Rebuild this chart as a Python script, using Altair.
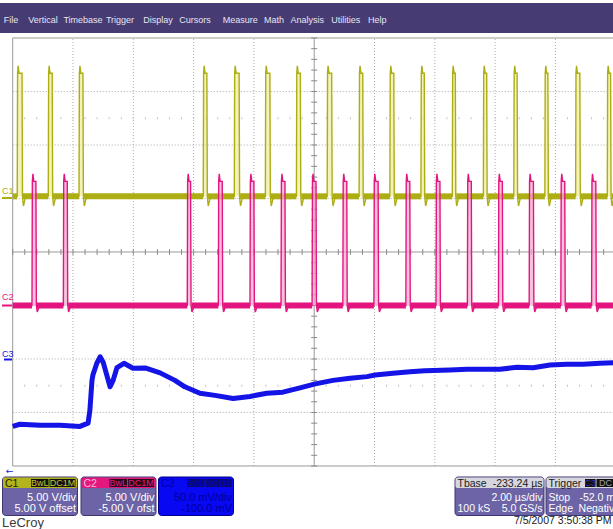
import altair as alt
import numpy as np
import pandas as pd

# ---------------- data ----------------
# time in microseconds relative to screen centre (2 us/div)
c1_rise = [-9.85, -8.82, -7.80, -3.68, -2.65, -1.62, -0.59, 0.43, 1.49, 2.51,
           3.54, 4.58, 5.61, 6.62, 7.65, 8.67, 9.72]
c1_fall = [-9.69, -8.69, -7.67, -3.56, -2.49, -1.47, -0.46, 0.58, 1.61, 2.64,
           3.65, 4.68, 5.72, 6.73, 7.75, 8.81, 9.83]
c1_levels = {"base": 0.2, "top": 11.7, "peak": 12.4, "under": -0.7}   # volts

c2_rise = [-9.36, -8.32, -4.21, -3.18, -2.13, -1.10, -0.07, 0.95, 1.98, 3.04,
           4.04, 5.08, 6.11, 7.13, 8.18, 9.20]
c2_fall = [-9.23, -8.19, -4.10, -3.05, -2.00, -0.97, 0.06, 1.08, 2.12, 3.17,
           4.17, 5.21, 6.24, 7.27, 8.31, 9.34]
c2_levels = {"base": 0.0, "top": 11.6, "peak": 12.3, "under": -0.6}   # volts

c3_t = [-10.0, -9.76, -9.09, -8.43, -7.77, -7.50, -7.44, -7.37, -7.34, -7.21,
        -7.10, -7.00, -6.87, -6.77, -6.67, -6.54, -6.31, -6.01, -5.61, -5.11,
        -4.62, -4.29, -3.79, -3.29, -2.69, -2.13, -1.57, -1.04, -0.47, 0.0,
        0.62, 1.19, 1.75, 2.02, 2.61, 3.18, 3.67, 4.50, 5.07, 5.60,
        6.16, 6.73, 7.26, 7.82, 8.38, 8.92, 9.48, 9.95]
c3_mv = [-63, -61, -62, -62, -63, -60, -48, -20, -15, -4,
         2, -3, -16, -26, -20, -8, -4, -8.7, -8.4, -13,
         -20, -26, -32, -34, -37, -35, -32, -31, -27, -23.5,
         -20, -18, -16.5, -15, -13.4, -12, -11, -10.3, -9.6, -9.6,
         -9.6, -7.8, -8.2, -5.6, -5.0, -4.9, -4.0, -3.5]

# channel settings: (volts/div, offset)
c1_set = (5.0, 5.0)
c2_set = (5.0, -5.0)
c3_set = (50.0, -100.0)

T0, T1 = -10.0, 10.0

# ---------------- scales ----------------
xs = alt.Scale(domain=[-10.421, 9.910], nice=False, zero=False)
ys = alt.Scale(domain=[-5.178, 4.710], nice=False, zero=False)


def X(f):
    return alt.X(f, type="quantitative", scale=xs, axis=None)


def Y(f):
    return alt.Y(f, type="quantitative", scale=ys, axis=None)


def to_div(v, setting):
    vdiv, off = setting
    return (np.asarray(v, dtype=float) + off) / vdiv


def pulse_frames(rise, fall, lv, setting):
    pts = [(T0, lv["base"])]
    fills, bands = [], []
    prev = T0
    for r, f in zip(rise, fall):
        pts += [(r, lv["base"]), (r + 0.012, lv["top"]), (r + 0.03, lv["peak"]),
                (r + 0.06, lv["top"]), (f, lv["top"]), (f + 0.015, lv["base"]),
                (f + 0.045, lv["under"]), (f + 0.12, lv["base"])]
        fills.append((r + 0.012, f, lv["base"], lv["top"]))
        bands.append((prev, r))
        prev = f + 0.03
    bands.append((prev, T1))
    pts.append((T1, lv["base"]))
    line = pd.DataFrame(pts, columns=["t", "v"])
    line["i"] = range(len(line))
    line["d"] = to_div(line["v"], setting)
    fill = pd.DataFrame(fills, columns=["t", "t2", "v1", "v2"])
    fill["d1"] = to_div(fill["v1"], setting)
    fill["d2"] = to_div(fill["v2"], setting)
    band = pd.DataFrame(bands, columns=["t", "t2"])
    band["d1"] = to_div(lv["base"] - 0.28, setting)
    band["d2"] = to_div(lv["base"] + 0.28, setting)
    return line, fill, band


def trace_layers(rise, fall, lv, setting, color, pale):
    line, fill, band = pulse_frames(rise, fall, lv, setting)
    return [
        alt.Chart(fill).mark_rect(color=pale, opacity=0.7, clip=True).encode(
            x=X("t"), x2="t2", y=Y("d1"), y2="d2"),
        alt.Chart(band).mark_rect(color=color, clip=True).encode(
            x=X("t"), x2="t2", y=Y("d1"), y2="d2"),
        alt.Chart(line).mark_line(color=color, strokeWidth=1.4, clip=True).encode(
            x=X("t"), y=Y("d"), order="i:Q"),
    ]


layers = []

# ---------------- graticule ----------------
GRID = "#a8a8a8"
vg = pd.DataFrame({"t": [-8, -6, -4, -2, 2, 4, 6, 8], "d1": -4, "d2": 4})
hg = pd.DataFrame({"d": [-3, -2, -1, 1, 2, 3], "t1": T0, "t2": T1})
layers.append(alt.Chart(vg).mark_rule(color=GRID, strokeDash=[1, 2], strokeWidth=1).encode(
    x=X("t"), y=Y("d1"), y2="d2"))
layers.append(alt.Chart(hg).mark_rule(color=GRID, strokeDash=[1, 2], strokeWidth=1).encode(
    y=Y("d"), x=X("t1"), x2="t2"))
# solid border and centre lines
sv = pd.DataFrame({"t": [-10, 0], "d1": -4, "d2": 4})
sh = pd.DataFrame({"d": [-4, 0, 4], "t1": T0, "t2": T1})
layers.append(alt.Chart(sv).mark_rule(color="#9a9a9a", strokeWidth=1).encode(
    x=X("t"), y=Y("d1"), y2="d2"))
layers.append(alt.Chart(sh).mark_rule(color="#9a9a9a", strokeWidth=1).encode(
    y=Y("d"), x=X("t1"), x2="t2"))
# minor ticks on centre lines (5 per division)
tx = pd.DataFrame({"t": np.arange(-10, 10.01, 0.4), "d1": -0.055, "d2": 0.055})
ty = pd.DataFrame({"d": np.arange(-4, 4.01, 0.2), "t1": -0.1, "t2": 0.1})
layers.append(alt.Chart(tx).mark_rule(color="#8a8a8a", strokeWidth=1).encode(
    x=X("t"), y=Y("d1"), y2="d2"))
layers.append(alt.Chart(ty).mark_rule(color="#8a8a8a", strokeWidth=1).encode(
    y=Y("d"), x=X("t1"), x2="t2"))
# faint marker rows
fm = pd.DataFrame({"t": np.arange(-9.6, 10, 0.4)})
for dv in (2.5, -2.5):
    f2 = fm.copy()
    f2["d1"] = dv - 0.02
    f2["d2"] = dv + 0.02
    layers.append(alt.Chart(f2).mark_rule(color="#c4c4c4", strokeWidth=1).encode(
        x=X("t"), y=Y("d1"), y2="d2"))

# ---------------- traces ----------------
C1COL, C2COL, C3COL = "#adad14", "#e3157f", "#1414e6"
layers += trace_layers(c1_rise, c1_fall, c1_levels, c1_set, C1COL, "#ecec9c")
layers += trace_layers(c2_rise, c2_fall, c2_levels, c2_set, C2COL, "#f4a6d0")
c3 = pd.DataFrame({"t": c3_t, "mv": c3_mv})
c3["d"] = to_div(c3["mv"], c3_set)
layers.append(alt.Chart(c3).mark_line(color=C3COL, strokeWidth=5, clip=True,
                                      strokeJoin="round").encode(x=X("t"), y=Y("d")))

# ---------------- screen chrome (pixel positions) ----------------
one = pd.DataFrame({"k": [0]})
SANS = "Liberation Sans, Arial, sans-serif"


def box(x1, x2, y1, y2, fill, stroke=None, r=0, sw=1):
    kw = dict(fill=fill, cornerRadius=r)
    if stroke:
        kw.update(stroke=stroke, strokeWidth=sw)
    return alt.Chart(one).mark_rect(**kw).encode(
        x=alt.value(x1), x2=alt.value(x2), y=alt.value(y1), y2=alt.value(y2))


def txt(s, x, y, color, size=10.5, align="left", font=SANS, baseline="alphabetic"):
    return alt.Chart(one).mark_text(text=s, align=align, baseline=baseline, fontSize=size,
                                    font=font, color=color).encode(
        x=alt.value(x), y=alt.value(y))


# menu bar
layers.append(box(0, 613, 3, 33, "#463b73"))
menu = ["File", "Vertical", "Timebase", "Trigger", "Display", "Cursors", "Measure",
        "Math", "Analysis", "Utilities", "Help"]
menu_cx = [11, 43, 83, 120, 158, 195, 240.3, 274, 307.3, 345.8, 377.3]
for s, x in zip(menu, menu_cx):
    layers.append(txt(s, x, 23, "#e6e6f2", size=9, align="center"))

# channel markers at left
layers.append(txt("C1", 2, 194, C1COL, size=9))
layers.append(box(2, 12, 197, 199, C1COL))
layers.append(txt("C2", 2, 300, C2COL, size=9))
layers.append(box(2, 12, 304.5, 306.5, C2COL))
layers.append(txt("C3", 2, 356.5, C3COL, size=9))
layers.append(box(4, 12, 358.5, 360.5, C3COL))
layers.append(txt("\u2190", 9.5, 471, C3COL, size=9, align="center",
                  font="DejaVu Sans", baseline="middle"))

BODY = "#6c64a6"
EDGE = "#3e3670"


def chan_box(x1, x2, head, head_fill, name_col, tag_fill, tag_col, tag2, lines, body=BODY,
             edge=EDGE, text_col="white"):
    out = [box(x1, x2, 477, 515.5, body, edge, 3)]
    if head_fill:
        out.append(box(x1 + 0.5, x2 - 0.5, 477.5, 488, head_fill, None, 2))
    out.append(txt(head, x1 + 2.5, 486.5, name_col, size=10.5))
    tx1 = x2 - 46.5
    out.append(box(tx1, tx1 + 17.5, 479, 487, tag_fill))
    out.append(box(tx1 + 18.5, x2 - 2, 479, 487, tag_fill))
    out.append(txt("BwL", tx1 + 8.75, 486, tag_col, size=9, align="center"))
    out.append(txt(tag2, (tx1 + 18.5 + x2 - 2) / 2, 486, tag_col, size=9, align="center"))
    out.append(txt(lines[0], x2 - 1.5, 501, text_col, size=11, align="right"))
    out.append(txt(lines[1], x2 - 1.5, 512, text_col, size=11, align="right"))
    return out


layers += chan_box(2.5, 77.5, "C1", "#b3b31b", "#1e1e00", "#111111", "#c2c23a", "DC1M",
                   ["5.00 V/div", "5.00 V offset"])
layers += chan_box(81, 156, "C2", "#e2187f", "#f9b6d6", "#2a0a18", "#e2187f", "DC1M",
                   ["5.00 V/div", "-5.00 V ofst"])
layers += chan_box(158.5, 233.5, "C3", None, "#0000a8", "#0a0a70", "#0000c8", "AC1M",
                   ["50.0 mV/div", "-100.0 mV"], body="#0808f2", edge="#00008a",
                   text_col="#00009a")

layers.append(txt("LeCroy", 2, 527, "#3a3a3a", size=13))

# timebase box
layers.append(box(455, 544, 477, 515.5, BODY, EDGE, 3))
layers.append(box(455.5, 543.5, 477.5, 488, "#d6d6de", None, 2))
layers.append(txt("Tbase", 457.5, 486.5, "#202020"))
layers.append(txt("-233.24 \u00b5s", 542.5, 486.5, "#202020", align="right"))
layers.append(txt("2.00 \u00b5s/div", 542.5, 501, "white", align="right"))
layers.append(txt("100 kS", 457.5, 512, "white"))
layers.append(txt("5.0 GS/s", 542.5, 512, "white", align="right"))

# trigger box (runs past the right edge of the screen, as in the capture)
layers.append(box(546, 630, 477, 515.5, BODY, EDGE, 3))
layers.append(box(546.5, 629.5, 477.5, 488, "#d6d6de", None, 2))
layers.append(txt("Trigger", 548.5, 486.5, "#202020"))
layers.append(box(585, 595.5, 479, 487, "#111111"))
layers.append(box(596.5, 616, 479, 487, "#111111"))
layers.append(txt("C3", 590.2, 486, "#3030c0", size=9, align="center"))
layers.append(txt("DC", 599, 486, "#a0a0a0", size=9))
layers.append(txt("Stop", 548.5, 501, "white"))
layers.append(txt("-52.0 mV", 622, 501, "white", align="right"))
layers.append(txt("Edge", 548.5, 512, "white"))
layers.append(txt("Negative", 620, 512, "white", align="right"))

layers.append(txt("7/5/2007 3:50:38 PM", 611.5, 523.5, "#202020", size=10.5, align="right"))

chart = alt.layer(*layers).properties(
    width=613, height=529, padding=0,
    autosize=alt.AutoSizeParams(type="none"),
    background="white",
).configure_view(strokeWidth=0)

chart.save("out.html", embed_options={"renderer": "svg", "actions": False})
